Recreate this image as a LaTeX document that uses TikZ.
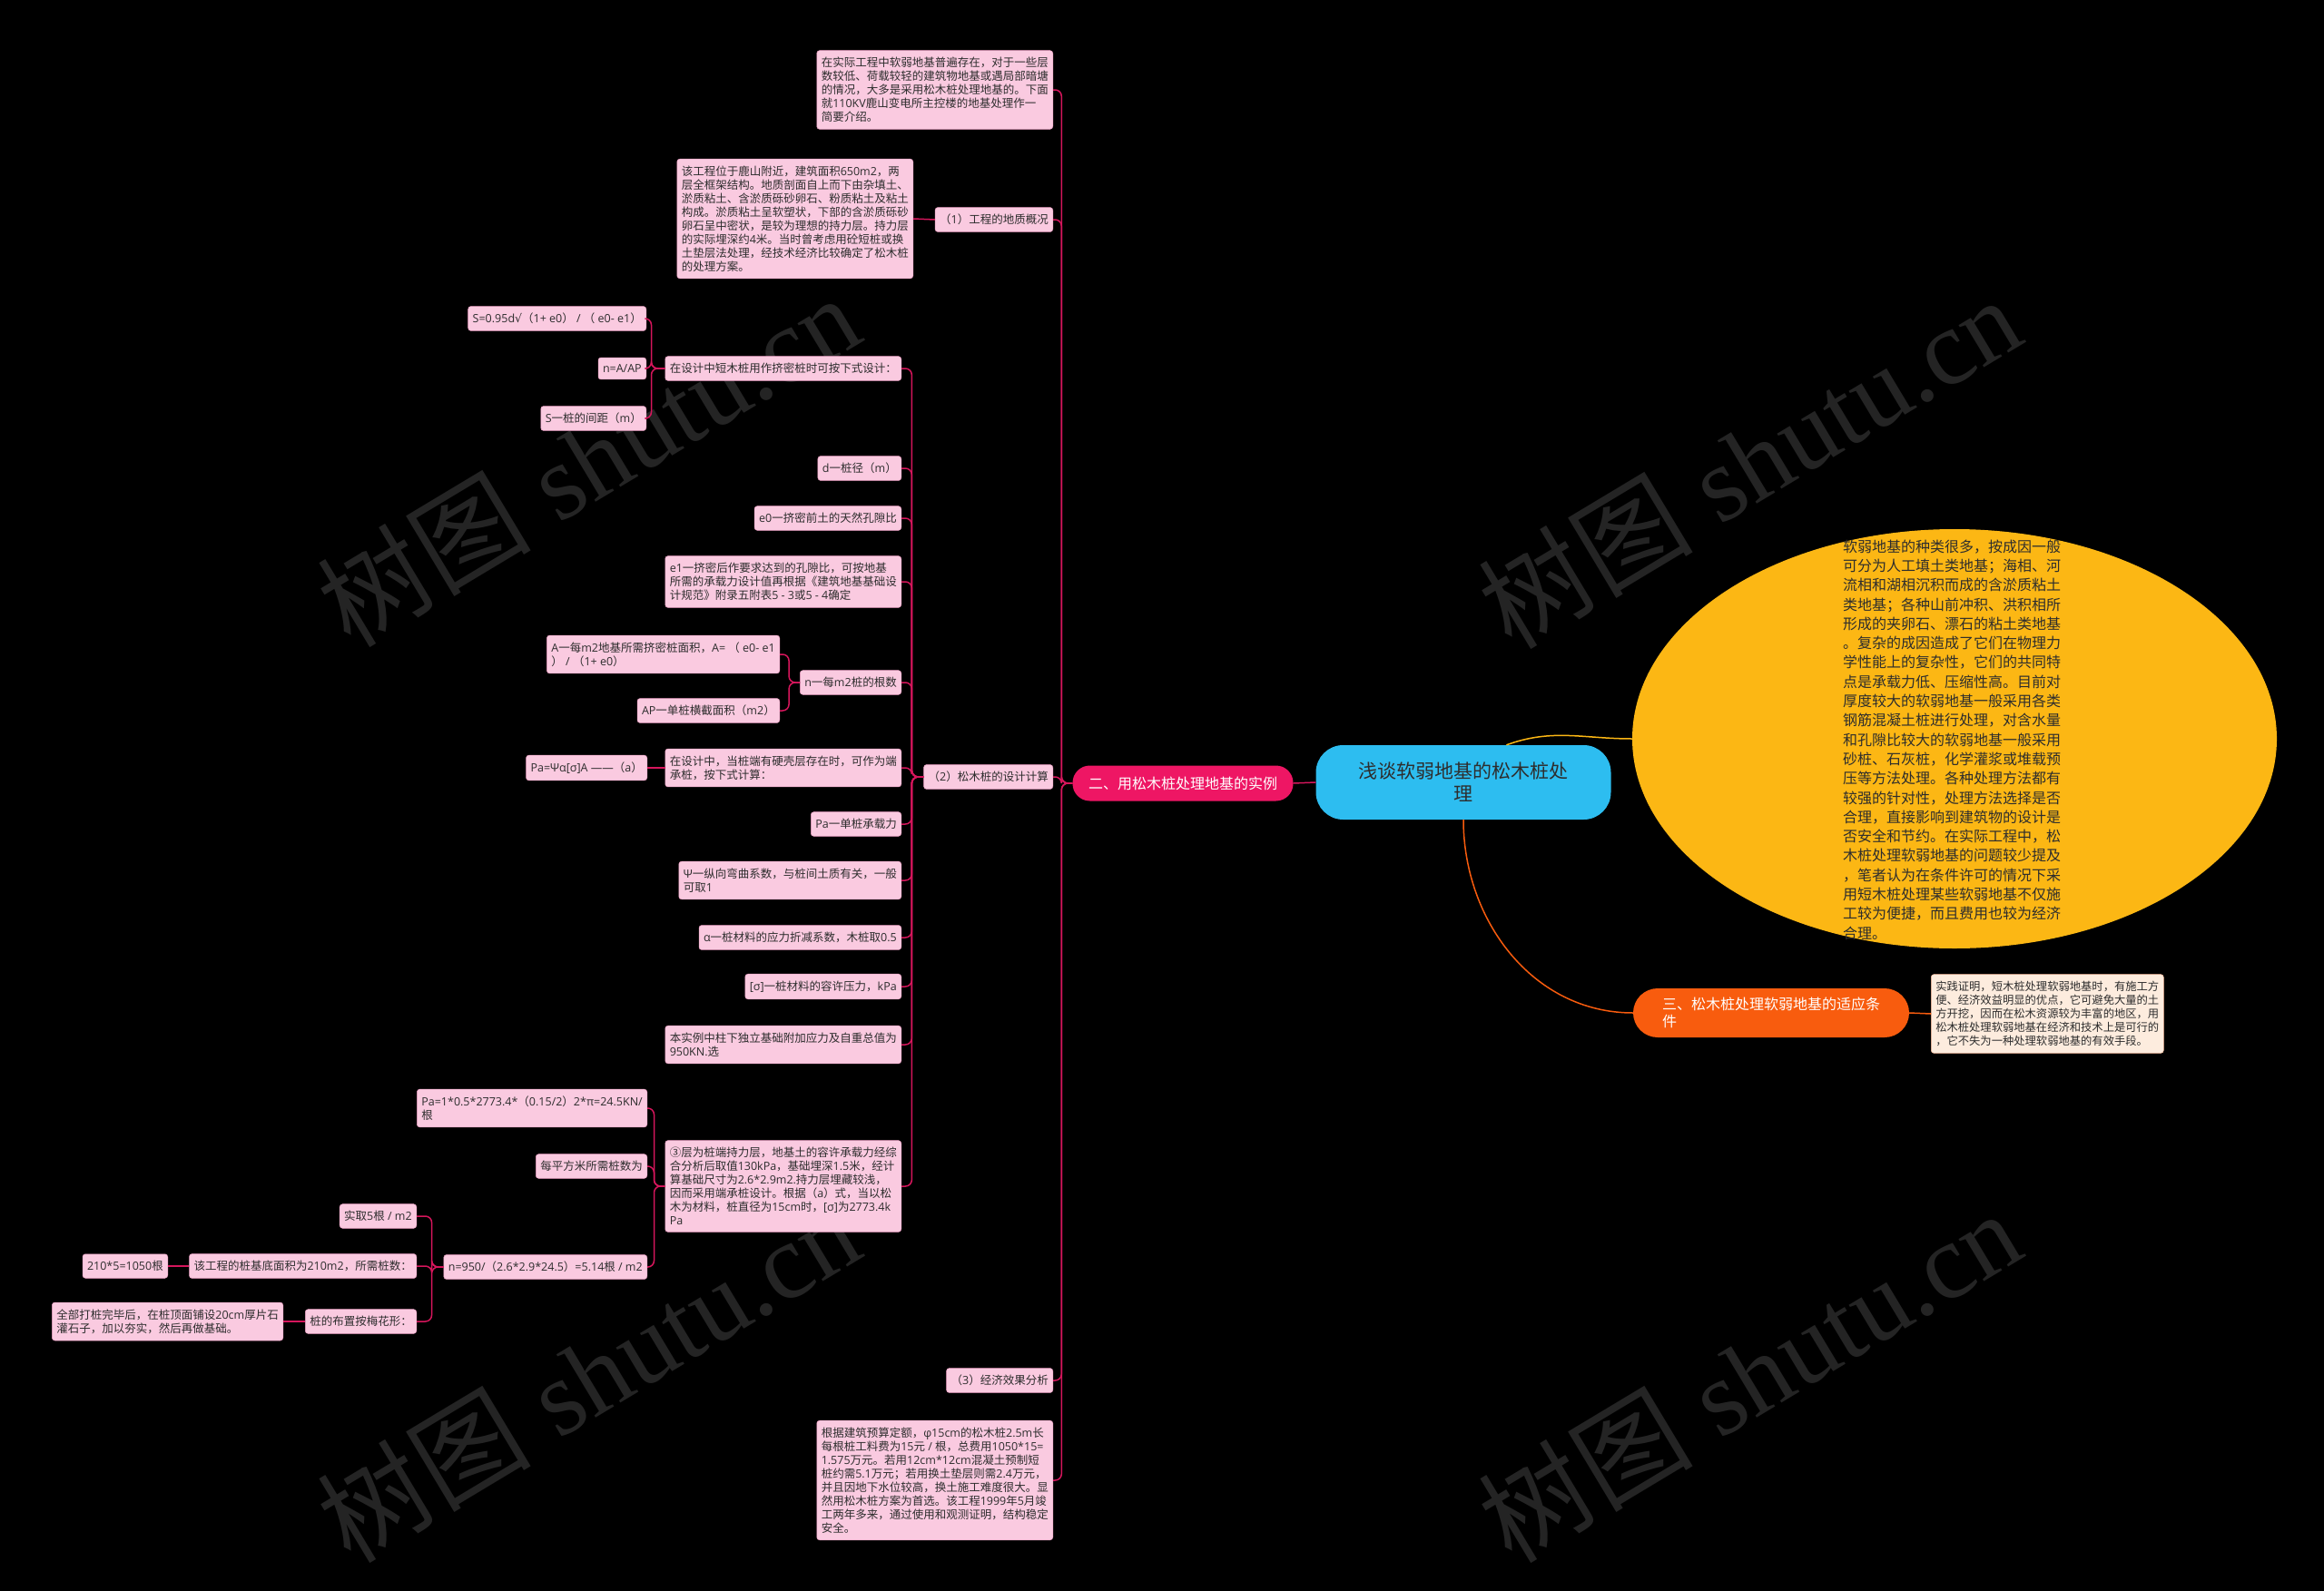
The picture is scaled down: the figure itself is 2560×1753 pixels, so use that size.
\documentclass[tikz,border=0pt]{standalone}
\usepackage{fontspec}
\setmainfont{Open Sans}
\newfontfamily\cjkfont{Noto Sans CJK SC}
\newfontfamily\symfont{DejaVu Sans}
\newfontfamily\wmfont{Liberation Serif}
\usetikzlibrary{shapes.geometric}

\XeTeXinterchartokenstate=1
\newXeTeXintercharclass\cjkcls
\newXeTeXintercharclass\symcls
\newcount\charidx
\def\setcjkrange#1#2{\charidx=#1\relax
  \loop\XeTeXcharclass\charidx=\cjkcls\ifnum\charidx<#2\advance\charidx by 1\repeat}
\setcjkrange{"2460}{"24FF}
\setcjkrange{"3000}{"303F}
\setcjkrange{"4E00}{"9FFF}
\setcjkrange{"FF00}{"FFEF}
\XeTeXcharclass"221A=\symcls
\XeTeXinterchartoks 0 \cjkcls = {\cjkfont}
\XeTeXinterchartoks 4095 \cjkcls = {\cjkfont}
\XeTeXinterchartoks \symcls \cjkcls = {\cjkfont}
\XeTeXinterchartoks \cjkcls 0 = {\normalfont}
\XeTeXinterchartoks \cjkcls 4095 = {\normalfont}
\XeTeXinterchartoks 0 \symcls = {\symfont}
\XeTeXinterchartoks \symcls 0 = {\normalfont}
\def\nointerchar{\XeTeXinterchartokenstate=0\relax}

\definecolor{nodepink}{RGB}{250,202,224}
\definecolor{edgepink}{RGB}{236,160,196}
\definecolor{linkpink}{RGB}{214,22,92}
\definecolor{rosered}{RGB}{238,22,100}
\definecolor{rootblue}{RGB}{45,189,240}
\definecolor{ygold}{RGB}{252,183,20}
\definecolor{orangered}{RGB}{248,92,14}
\definecolor{peach}{RGB}{253,236,222}
\definecolor{textgray}{RGB}{45,45,45}
\definecolor{wmgray}{RGB}{36,36,36}

\begin{document}
\begin{tikzpicture}[x=1pt,y=-1pt,
  note/.style={draw=edgepink, fill=nodepink, text=textgray, rounded corners=3pt,
    inner xsep=5pt, inner ysep=7.5pt, align=left, line width=0.5pt,
    font=\fontsize{12.5}{15}\selectfont, anchor=east},
  lvl1/.style={text=white, minimum width=243pt, minimum height=39pt,
    rounded corners=19pt, font=\fontsize{16}{19}\selectfont},
  root/.style={fill=rootblue, text=textgray, minimum width=325pt, minimum height=82pt,
    rounded corners=30pt, align=center, font=\fontsize{21}{25}\selectfont},
  link/.style={draw=linkpink, line width=1.5pt, rounded corners=7pt},
  ylink/.style={draw=ygold, line width=1.5pt},
  olink/.style={draw=orangered, line width=1.5pt},
  wm/.style={text=wmgray, rotate=31, font=\nointerchar\fontsize{118}{120}\selectfont}]

\fill[black] (0,0) rectangle (2560,1753);
\useasboundingbox (0,0) rectangle (2560,1753);

\foreach \wx/\wy in {648/506,1927/508,648/1515,1927/1515}
  \node[wm] (wm-\wx-\wy) at (\wx,\wy) {{\cjkfont 树图} {\wmfont shutu.cn}};

% centre and right side
\node[root] (root) at (1612,862) {浅谈软弱地基的松木桩处\\理};
\node[ellipse, fill=ygold, minimum width=710pt, minimum height=462pt, inner sep=0pt] (gai) at (2153,814) {};
\node[text=textgray, align=left, font=\fontsize{16}{21.3}\selectfont] (gaitext) at (2150,815) {软弱地基的种类很多，按成因一般\\可分为人工填土类地基；海相、河\\流相和湖相沉积而成的含淤质粘土\\类地基；各种山前冲积、洪积相所\\形成的夹卵石、漂石的粘土类地基\\。复杂的成因造成了它们在物理力\\学性能上的复杂性，它们的共同特\\点是承载力低、压缩性高。目前对\\厚度较大的软弱地基一般采用各类\\钢筋混凝土桩进行处理，对含水量\\和孔隙比较大的软弱地基一般采用\\砂桩、石灰桩，化学灌浆或堆载预\\压等方法处理。各种处理方法都有\\较强的针对性，处理方法选择是否\\合理，直接影响到建筑物的设计是\\否安全和节约。在实际工程中，松\\木桩处理软弱地基的问题较少提及\\，笔者认为在条件许可的情况下采\\用短木桩处理某些软弱地基不仅施\\工较为便捷，而且费用也较为经济\\合理。};
\node[lvl1, fill=orangered, align=left, minimum width=304pt, minimum height=54pt, rounded corners=27pt] (tiaojian) at (1951,1116) {三、松木桩处理软弱地基的适应条\\件};
\node[note, anchor=west, fill=peach, draw=orangered!40, font=\fontsize{12.3}{15}\selectfont] (shijian) at (2127,1117) {实践证明，短木桩处理软弱地基时，有施工方\\便、经济效益明显的优点，它可避免大量的土\\方开挖，因而在松木资源较为丰富的地区，用\\松木桩处理软弱地基在经济和技术上是可行的\\，它不失为一种处理软弱地基的有效手段。};
\node[lvl1, fill=rosered] (shili) at (1303,863) {二、用松木桩处理地基的实例};

\draw[ylink] (root.41) to[out=20,in=180] (gai.west);
\draw[olink] (root.south) to[out=-90,in=180] (tiaojian.west);
\draw[olink] (tiaojian.east) -- (shijian.west);
\draw[link] (root.west) -- (shili.east);

% level 2
\node[note] (intro) at (1160,99) {在实际工程中软弱地基普遍存在，对于一些层\\数较低、荷载较轻的建筑物地基或遇局部暗塘\\的情况，大多是采用松木桩处理地基的。下面\\就110KV鹿山变电所主控楼的地基处理作一\\简要介绍。};
\node[note] (dizhi) at (1160,242) {（1）工程的地质概况};
\node[note] (sheji) at (1160,856) {（2）松木桩的设计计算};
\node[note] (jingji) at (1160,1521) {（3）经济效果分析};
\node[note] (yusuan) at (1160,1631) {根据建筑预算定额，φ15cm的松木桩2.5m长\\每根桩工料费为15元 / 根，总费用1050*15=\\1.575万元。若用12cm*12cm混凝土预制短\\桩约需5.1万元；若用换土垫层则需2.4万元，\\并且因地下水位较高，换土施工难度很大。显\\然用松木桩方案为首选。该工程1999年5月竣\\工两年多来，通过使用和观测证明，结构稳定\\安全。};
\foreach \c in {intro,dizhi,sheji,jingji,yusuan}
  \draw[link] (shili.west) -- ++(-12,0) |- (\c.east);

\node[note] (gaikuang) at (1006,241) {该工程位于鹿山附近，建筑面积650m2，两\\层全框架结构。地质剖面自上而下由杂填土、\\淤质粘土、含淤质砾砂卵石、粉质粘土及粘土\\构成。淤质粘土呈软塑状，下部的含淤质砾砂\\卵石呈中密状，是较为理想的持力层。持力层\\的实际埋深约4米。当时曾考虑用砼短桩或换\\土垫层法处理，经技术经济比较确定了松木桩\\的处理方案。};
\draw[link] (dizhi.west) -- (gaikuang.east);

% design calculation
\node[note] (jimi) at (993,406) {在设计中短木桩用作挤密桩时可按下式设计：};
\node[note] (zhuangjing) at (993,516) {d一桩径（m）};
\node[note] (kongxi0) at (993,571) {e0一挤密前土的天然孔隙比};
\node[note] (kongxi1) at (993,641) {e1一挤密后作要求达到的孔隙比，可按地基\\所需的承载力设计值再根据《建筑地基基础设\\计规范》附录五附表5 - 3或5 - 4确定};
\node[note] (genshu) at (993,752) {n一每m2桩的根数};
\node[note] (duancheng) at (993,846) {在设计中，当桩端有硬壳层存在时，可作为端\\承桩，按下式计算：};
\node[note] (chengzai) at (993,908) {Pa一单桩承载力};
\node[note] (psi) at (993,970) {Ψ一纵向弯曲系数，与桩间土质有关，一般\\可取1};
\node[note] (alpha) at (993,1033) {α一桩材料的应力折减系数，木桩取0.5};
\node[note] (sigma) at (993,1087) {[σ]一桩材料的容许压力，kPa};
\node[note] (shili950) at (993,1151) {本实例中柱下独立基础附加应力及自重总值为\\950KN.选};
\node[note] (chiliceng) at (993,1307) {③层为桩端持力层，地基土的容许承载力经综\\合分析后取值130kPa，基础埋深1.5米，经计\\算基础尺寸为2.6*2.9m2.持力层埋藏较浅，\\因而采用端承桩设计。根据（a）式，当以松\\木为材料，桩直径为15cm时，[σ]为2773.4k\\Pa};
\foreach \c in {jimi,zhuangjing,kongxi0,kongxi1,genshu,duancheng,chengzai,psi,alpha,sigma,shili950,chiliceng}
  \draw[link] (sheji.west) -- ++(-13,0) |- (\c.east);

\node[note] (jianju0) at (712,351) {S=0.95d√（1+ e0） / （ e0- e1）};
\node[note] (naap) at (712,406) {n=A/AP};
\node[note] (jianju) at (712,461) {S一桩的间距（m）};
\foreach \c in {jianju0,naap,jianju}
  \draw[link] (jimi.west) -- ++(-15,0) |- (\c.east);

\node[note] (mianji) at (859,721) {A一每m2地基所需挤密桩面积，A= （ e0- e1\\） / （1+ e0）};
\node[note] (hengjie) at (859,783) {AP一单桩横截面积（m2）};
\foreach \c in {mianji,hengjie}
  \draw[link] (genshu.west) -- ++(-12,0) |- (\c.east);

\node[note] (gongshi) at (713,846) {Pa=Ψα[σ]A ——（a）};
\draw[link] (duancheng.west) -- (gongshi.east);

\node[note] (pazhi) at (713,1221) {Pa=1*0.5*2773.4*（0.15/2）2*π=24.5KN/\\根};
\node[note] (meiping) at (713,1285) {每平方米所需桩数为};
\node[note] (nzhi) at (713,1396) {n=950/（2.6*2.9*24.5）=5.14根 / m2};
\foreach \c in {pazhi,meiping,nzhi}
  \draw[link] (chiliceng.west) -- ++(-12,0) |- (\c.east);

\node[note] (shiqu) at (459,1340) {实取5根 / m2};
\node[note] (dimian) at (459,1395) {该工程的桩基底面积为210m2，所需桩数：};
\node[note] (meihua) at (459,1456) {桩的布置按梅花形：};
\foreach \c in {shiqu,dimian,meihua}
  \draw[link] (nzhi.west) -- ++(-13,0) |- (\c.east);

\node[note] (zongshu) at (185,1395) {210*5=1050根};
\draw[link] (dimian.west) -- (zongshu.east);
\node[note] (dashi) at (312,1456) {全部打桩完毕后，在桩顶面铺设20cm厚片石\\灌石子，加以夯实，然后再做基础。};
\draw[link] (meihua.west) -- (dashi.east);
\end{tikzpicture}
\end{document}
